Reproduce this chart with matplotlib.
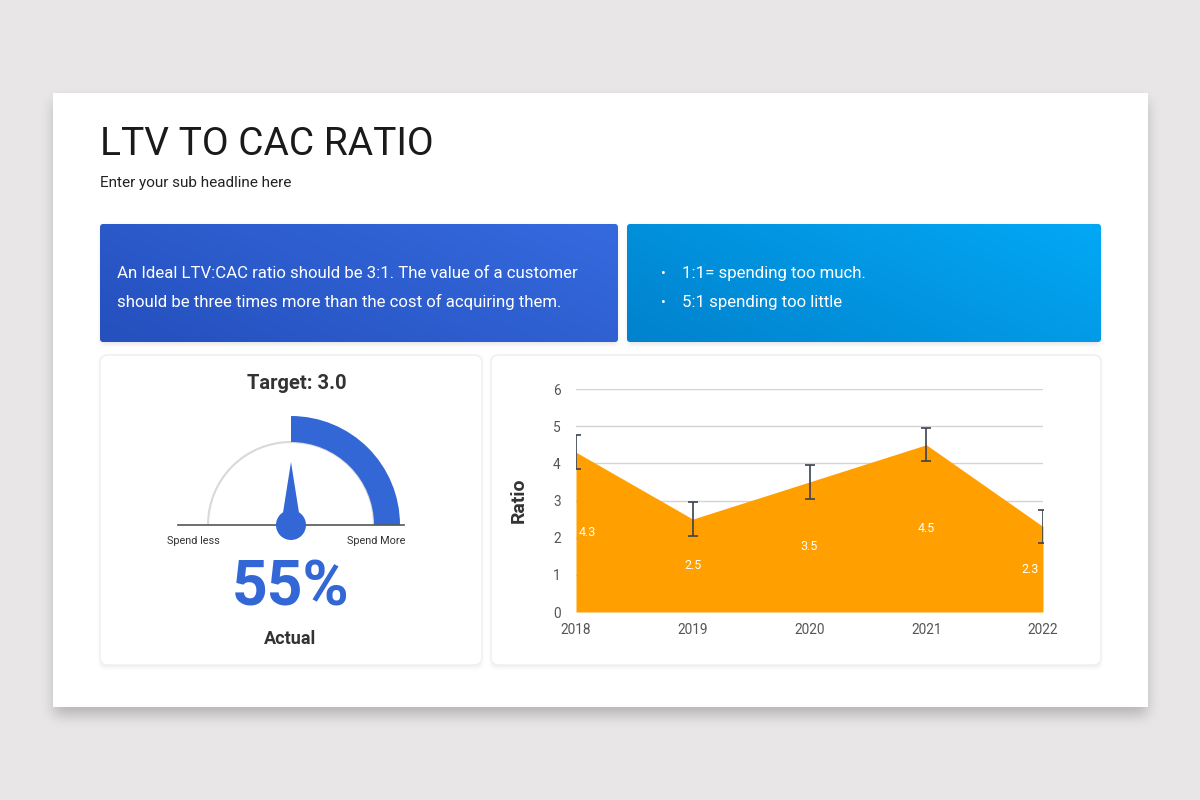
import numpy as np
import matplotlib
matplotlib.use("Agg")
import matplotlib.pyplot as plt
from matplotlib.patches import FancyBboxPatch, Rectangle, Wedge, Arc, Circle, Polygon

plt.rcParams['font.family'] = ['Roboto', 'DejaVu Sans']

# chart data
years = [2018, 2019, 2020, 2021, 2022]
ratio = [4.3, 2.5, 3.5, 4.5, 2.3]
ratio_err = [0.45, 0.45, 0.45, 0.45, 0.45]
y_ticks = [0, 1, 2, 3, 4, 5, 6]

# gauge data
target = 3.0
actual_pct = 55
band = (0.5, 1.0)      # highlighted part of the half circle ("spend more")
needle_frac = 0.5

title = "LTV TO CAC RATIO"
subtitle = "Enter your sub headline here"
box_left_lines = ["An Ideal LTV:CAC ratio should be 3:1. The value of a customer",
                  "should be three times more than the cost of acquiring them."]
box_right_lines = ["1:1= spending too much.", "5:1 spending too little"]

fig = plt.figure(figsize=(12, 8), dpi=100)
fig.patch.set_facecolor('#e8e6e7')

# background axes in pixel coordinates
bg = fig.add_axes([0, 0, 1, 1])
bg.set_xlim(0, 1200)
bg.set_ylim(800, 0)
bg.axis('off')


def box_blur(a, r, passes=3):
    k = np.ones(2 * r + 1) / (2 * r + 1)
    for _ in range(passes):
        a = np.apply_along_axis(lambda v: np.convolve(v, k, mode='same'), 0, a)
        a = np.apply_along_axis(lambda v: np.convolve(v, k, mode='same'), 1, a)
    return a


def soft_shadow(x0, y0, x1, y1, dy, r, alpha, z):
    pad = 4 * r + 4
    X0, Y0, X1, Y1 = x0 - pad, y0 - pad, x1 + pad, y1 + pad
    h, w = int(Y1 - Y0), int(X1 - X0)
    m = np.zeros((h, w))
    m[int(y0 - Y0 + dy):int(y1 - Y0 + dy), int(x0 - X0 + 1):int(x1 - X0 - 1)] = 1
    m = box_blur(m, r)
    rgba = np.zeros((h, w, 4))
    rgba[..., 3] = m * alpha
    bg.imshow(rgba, extent=(X0, X1, Y1, Y0), origin='upper', interpolation='bilinear',
              zorder=z, aspect='auto')


# slide with soft shadow
soft_shadow(53, 93, 1148, 707, 8, 6, 0.22, 0.5)
bg.add_patch(Rectangle((53, 93), 1095, 614, facecolor='white', lw=0, zorder=1))

# title
bg.text(100, 155, title, fontsize=28, color='#1a1a1a', va='baseline', zorder=5)
bg.text(100, 187, subtitle, fontsize=11, color='#222222', va='baseline', zorder=5)


def gradient_box(x0, y0, x1, y1, c_dark, c_light):
    box = FancyBboxPatch((x0, y0), x1 - x0, y1 - y0,
                         boxstyle="round,pad=0,rounding_size=3",
                         facecolor='none', lw=0, zorder=2)
    bg.add_patch(box)
    cd = np.array(matplotlib.colors.to_rgb(c_dark))
    cl = np.array(matplotlib.colors.to_rgb(c_light))
    n = 64
    xx, yy = np.meshgrid(np.linspace(0, 1, n), np.linspace(0, 1, n))
    t = np.clip(0.65 * xx + 0.35 * (1 - yy), 0, 1)[..., None]
    img = cd * (1 - t) + cl * t
    im = bg.imshow(img, extent=(x0, x1, y1, y0), origin='upper',
                   interpolation='bilinear', zorder=2, aspect='auto')
    im.set_clip_path(box)


soft_shadow(100, 224, 618, 342, 2, 2, 0.12, 1.5)
soft_shadow(627, 224, 1101, 342, 2, 2, 0.12, 1.5)
gradient_box(100, 224, 618, 342, '#2550be', '#356ade')
gradient_box(627, 224, 1101, 342, '#0182cd', '#03a8f5')

for i, line in enumerate(box_left_lines):
    bg.text(117, 278 + i * 29, line, fontsize=12.1, color='white', va='baseline', zorder=5)
for i, line in enumerate(box_right_lines):
    bg.text(663, 278 + i * 29, u"\u2022", fontsize=10, color='white', va='baseline', ha='center', zorder=5)
    bg.text(682, 278 + i * 29, line, fontsize=12.1, color='white', va='baseline', zorder=5)

# cards
for (x0, y0, x1, y1) in [(100, 355, 482, 665), (491, 355, 1101, 665)]:
    soft_shadow(x0, y0, x1, y1, 2, 2, 0.08, 1.5)
    bg.add_patch(FancyBboxPatch((x0, y0), x1 - x0, y1 - y0,
                                boxstyle="round,pad=0,rounding_size=8",
                                facecolor='white', edgecolor='#efefef', lw=1.0, zorder=2))

bg.set_xlim(0, 1200)
bg.set_ylim(800, 0)

# gauge
cx, cy = 291, 525
r_in, r_out = 83, 109
blue = '#3367d6'


def frac_to_angle(f):
    # visual angle (0 = right, 180 = left), y axis is inverted
    return -(180 - f * 180)


bg.add_patch(Arc((cx, cy), 2 * r_in, 2 * r_in, theta1=180, theta2=360,
                 color='#d9d9d9', lw=1.5, zorder=3))
bg.add_patch(Wedge((cx, cy), r_out, frac_to_angle(band[0]), frac_to_angle(band[1]) if band[1] < 1 else 0,
                   width=r_out - r_in, facecolor=blue, lw=0, zorder=4))
bg.plot([178, 404], [cy, cy], color='#555555', lw=1.2, zorder=4)

ang = np.deg2rad(frac_to_angle(needle_frac))
tip = (cx + 63 * np.cos(ang), cy + 63 * np.sin(ang))
perp = ang + np.pi / 2
base_c = (cx + 6 * np.cos(ang), cy + 6 * np.sin(ang))
bg.add_patch(Polygon([(base_c[0] + 9 * np.cos(perp), base_c[1] + 9 * np.sin(perp)),
                      (base_c[0] - 9 * np.cos(perp), base_c[1] - 9 * np.sin(perp)),
                      tip], closed=True, facecolor=blue, lw=0, zorder=5))
bg.add_patch(Circle((cx, cy), 15, facecolor=blue, lw=0, zorder=5))

bg.text(297, 389, f"Target: {target:.1f}", fontsize=14.5, fontweight='bold', color='#333333',
        ha='center', va='baseline', zorder=5)
bg.text(193, 544, "Spend less", fontsize=7.8, color='#333333', ha='center', va='baseline', zorder=5)
bg.text(376, 544, "Spend More", fontsize=7.8, color='#333333', ha='center', va='baseline', zorder=5)
bg.text(291, 605, f"{actual_pct}%", fontsize=45, fontweight='bold', color=blue,
        ha='center', va='baseline', zorder=5)
bg.text(290, 644, "Actual", fontsize=13, fontweight='bold', color='#333333',
        ha='center', va='baseline', zorder=5)

# area chart
ax = fig.add_axes([576 / 1200, (800 - 612) / 800, (1043 - 576) / 1200, (612 - 389) / 800])
ax.set_facecolor('none')
ax.fill_between(years, 0, ratio, color='#ffa000', lw=0, zorder=2)
ax.errorbar(years, ratio, yerr=ratio_err, fmt='none', ecolor='#3a4250',
            elinewidth=1.2, capsize=3.5, capthick=1.2, zorder=3)
ax.set_xlim(years[0], years[-1])
ax.set_ylim(y_ticks[0], y_ticks[-1])
ax.set_yticks(y_ticks)
ax.set_xticks(years)
ax.yaxis.grid(True, color='#d3d3d3', lw=1)
ax.set_axisbelow(True)
for s in ax.spines.values():
    s.set_visible(False)
ax.tick_params(length=0, labelsize=9.8, labelcolor='#555555', pad=8)
ax.tick_params(axis='y', pad=11)
ax.set_ylabel("Ratio", fontsize=14, fontweight='bold', color='#333333')
ax.yaxis.set_label_coords(-0.103, 0.5)

for i, (yr, v) in enumerate(zip(years, ratio)):
    if i == 0:
        ha, dx = 'left', 3
    elif i == len(years) - 1:
        ha, dx = 'right', -4
    else:
        ha, dx = 'center', 0
    ax.annotate(f"{v}", (yr, v / 2), xytext=(dx, 0), textcoords='offset pixels',
                ha=ha, va='center', color='white', fontsize=9, zorder=4)

fig.savefig('out.png', dpi=100, facecolor=fig.get_facecolor())
